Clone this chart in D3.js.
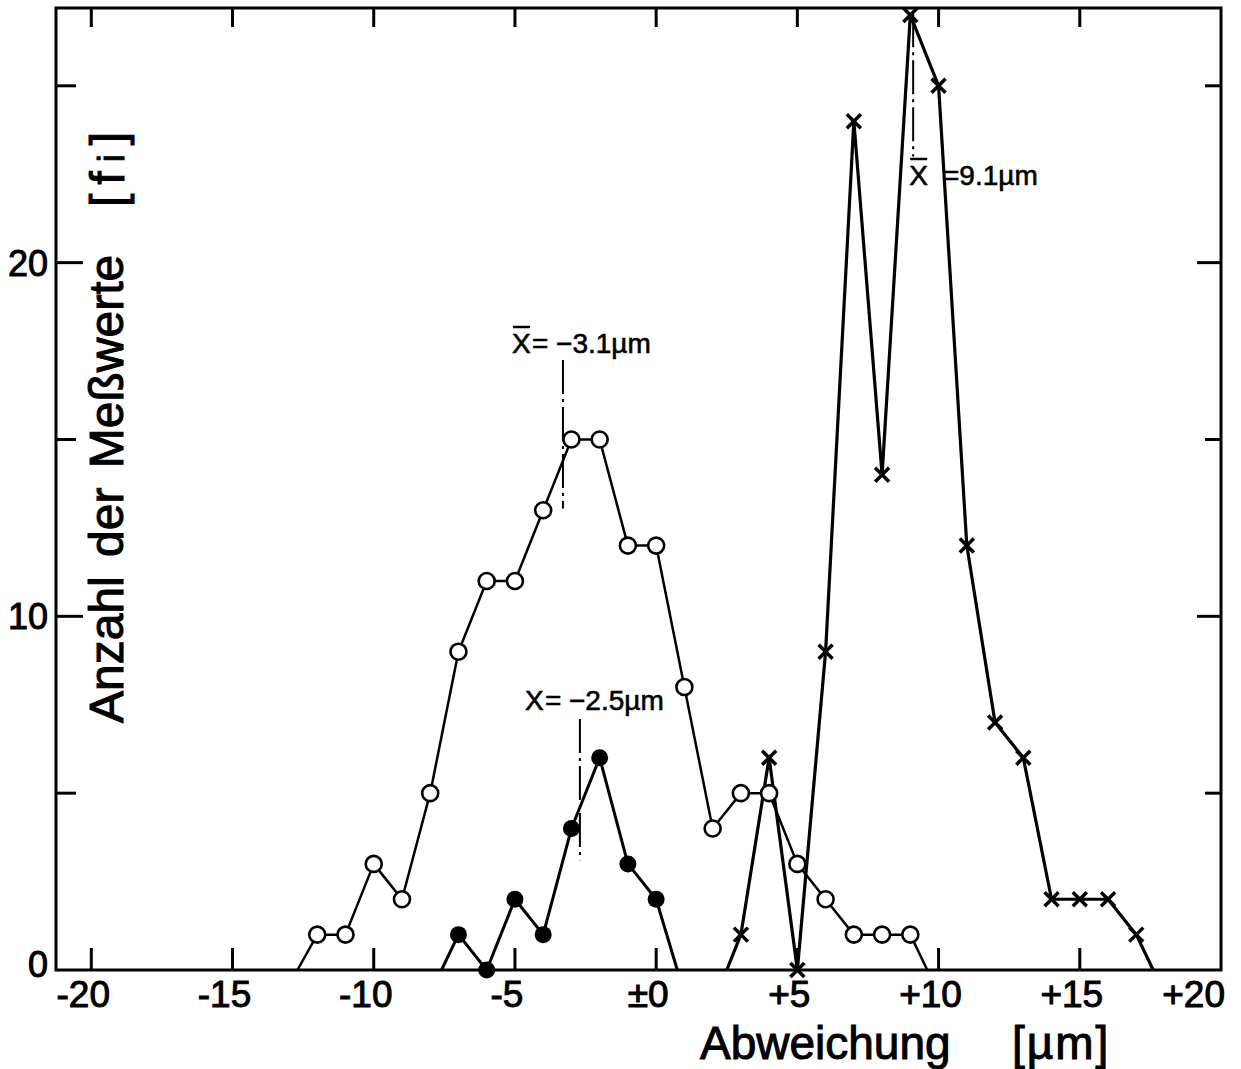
<!DOCTYPE html>
<html>
<head>
<meta charset="utf-8">
<script src="https://cdn.jsdelivr.net/npm/d3@7"></script>
<style>
  html, body { margin: 0; padding: 0; background: #fff; }
  svg { display: block; }
  text { font-family: "Liberation Sans", Arial, sans-serif; fill: #000; stroke: #000; stroke-width: 1px; }
  text.small { stroke-width: 0.6px; }
</style>
</head>
<body>
<svg id="chart"></svg>
<script>
// Deviation histograms (open circles, filled dots, crosses)

// open circles
const openX = [-12, -11, -10, -9, -8, -7, -6, -5, -4, -3, -2, -1, 0, 1, 2, 3, 4, 5, 6, 7, 8, 9];
const openY = [1, 1, 3, 2, 5, 9, 11, 11, 13, 15, 15, 12, 12, 8, 4, 5, 5, 3, 2, 1, 1, 1];
const openEnds = [-12.7, 9.6];

// filled dots
const filledX = [-7, -6, -5, -4, -3, -2, -1, 0];
const filledY = [1, 0, 2, 1, 4, 6, 3, 2];
const filledEnds = [-7.6, 0.75];

// crosses
const crossX = [3, 4, 5, 6, 7, 8, 9, 10, 11, 12, 13, 14, 15, 16, 17];
const crossY = [1, 6, 0, 9, 24, 14, 27, 25, 12, 7, 6, 2, 2, 2, 1];
const crossEnds = [2.5, 17.6];

// mean markers: x position, vertical extent, label
const meanX = [-3.3, -2.7, 9.1];
const meanFrom = [13.05, 3.1, 23.0];
const meanTo = [17.25, 7.1, 27.05];
const meanLabel = ['= \u22123.1\u00b5m', '= \u22122.5\u00b5m', '=9.1\u00b5m'];
const meanBar = [true, false, true];

// axis ticks
const xTicks = [-20, -15, -10, -5, 0, 5, 10, 15, 20];
const xTickLabels = ['-20', '-15', '-10', '-5', '\u00b10', '+5', '+10', '+15', '+20'];
const yTicks = [5, 10, 15, 20, 25];
const yLabelTicks = [0, 10, 20];

const width = 1241, height = 1069;
const margin = { top: 8, right: 20, bottom: 99, left: 56 };

const svg = d3.select('#chart')
  .attr('width', width)
  .attr('height', height);

const xScale = d3.scaleLinear()
  .domain([-21.25, 20])
  .range([margin.left, width - margin.right]);

const yScale = d3.scaleLinear()
  .domain([0, 27.2])
  .range([height - margin.bottom, margin.top]);

const x0 = xScale.range()[0], x1 = xScale.range()[1];
const y0 = yScale.range()[0], y1 = yScale.range()[1];

// Frame
svg.append('rect')
  .attr('x', x0)
  .attr('y', y1)
  .attr('width', x1 - x0)
  .attr('height', y0 - y1)
  .style('fill', 'none')
  .style('stroke', '#000')
  .style('stroke-width', 3);

// Ticks on all four sides (pointing inward)
const ticks = svg.append('g').style('stroke', '#000').style('stroke-width', 3);

ticks.selectAll('.tb')
  .data(xTicks.filter(d => d < 20))
  .enter().append('line')
  .attr('x1', d => xScale(d)).attr('x2', d => xScale(d))
  .attr('y1', y0).attr('y2', y0 - 22);

ticks.selectAll('.tt')
  .data(xTicks.filter(d => d < 20))
  .enter().append('line')
  .attr('x1', d => xScale(d)).attr('x2', d => xScale(d))
  .attr('y1', y1).attr('y2', y1 + 19);

ticks.selectAll('.tl')
  .data(yTicks)
  .enter().append('line')
  .attr('x1', x0).attr('x2', d => x0 + (d % 10 === 0 ? 27 : 20))
  .attr('y1', d => yScale(d)).attr('y2', d => yScale(d));

ticks.selectAll('.tr')
  .data(yTicks)
  .enter().append('line')
  .attr('x1', x1).attr('x2', d => x1 - (d % 10 === 0 ? 24 : 16))
  .attr('y1', d => yScale(d)).attr('y2', d => yScale(d));

// X tick labels
svg.append('g')
  .selectAll('text')
  .data(xTicks)
  .enter().append('text')
  .attr('x', (d, i) => d === 20 ? xScale(d) + 4 : xScale(d) - 8)
  .attr('y', 1007)
  .attr('text-anchor', d => d === 20 ? 'end' : 'middle')
  .style('font-size', '37px')
  .text((d, i) => xTickLabels[i]);

// Y tick labels
svg.append('g')
  .selectAll('text')
  .data(yLabelTicks)
  .enter().append('text')
  .attr('x', x0 - 8)
  .attr('y', d => yScale(d))
  .attr('dy', d => d === 0 ? '0.2em' : '0.36em')
  .attr('text-anchor', 'end')
  .style('font-size', '36px')
  .text(d => d);

// Axis titles
svg.append('text')
  .attr('x', 700)
  .attr('y', 1059)
  .style('font-size', '46px')
  .text('Abweichung');

svg.append('text')
  .attr('x', 1012)
  .attr('y', 1059)
  .style('font-size', '46px')
  .style('letter-spacing', '2px')
  .text('[\u00b5m]');

svg.append('text')
  .attr('transform', 'translate(123,723) rotate(-90)')
  .style('font-size', '48px')
  .style('word-spacing', '6px')
  .text('Anzahl der Meßwerte');

const fi = svg.append('text')
  .attr('transform', 'translate(124,207) rotate(-90)')
  .style('font-size', '48px')
  .style('letter-spacing', '9px');
fi.append('tspan').text('[f');
fi.append('tspan').style('font-size', '36px').text('i');
fi.append('tspan').text(']');

// Series lines
const line = d3.line()
  .x(d => xScale(d[0]))
  .y(d => yScale(d[1]));

function withEnds(xs, ys, ends) {
  const pts = xs.map((d, i) => [d, ys[i]]);
  return [[ends[0], 0]].concat(pts, [[ends[1], 0]]);
}

const series = [
  { xs: openX, ys: openY, ends: openEnds, w: 2.5 },
  { xs: filledX, ys: filledY, ends: filledEnds, w: 3 },
  { xs: crossX, ys: crossY, ends: crossEnds, w: 3.2 }
];

svg.append('g')
  .selectAll('path')
  .data(series)
  .enter().append('path')
  .attr('d', d => line(withEnds(d.xs, d.ys, d.ends)))
  .style('fill', 'none')
  .style('stroke', '#000')
  .style('stroke-width', d => d.w)
  .style('stroke-linejoin', 'round');

// Mean markers (dash-dot lines)
svg.append('g')
  .selectAll('line')
  .data(meanX)
  .enter().append('line')
  .attr('x1', d => xScale(d)).attr('x2', d => xScale(d))
  .attr('y1', (d, i) => yScale(meanTo[i]))
  .attr('y2', (d, i) => yScale(meanFrom[i]))
  .style('stroke', '#000')
  .style('stroke-width', 2)
  .style('stroke-dasharray', '34,5,3,5');

// Open circle markers
svg.append('g')
  .selectAll('circle')
  .data(openX)
  .enter().append('circle')
  .attr('cx', d => xScale(d))
  .attr('cy', (d, i) => yScale(openY[i]))
  .attr('r', 8)
  .style('fill', '#fff')
  .style('stroke', '#000')
  .style('stroke-width', 2.6);

// Filled dot markers
svg.append('g')
  .selectAll('circle')
  .data(filledX)
  .enter().append('circle')
  .attr('cx', d => xScale(d))
  .attr('cy', (d, i) => yScale(filledY[i]))
  .attr('r', 8.5)
  .style('fill', '#000');

// Cross markers
const crosses = svg.append('g')
  .style('stroke', '#000')
  .style('stroke-width', 3.5)
  .selectAll('g')
  .data(crossX)
  .enter().append('g')
  .attr('transform', (d, i) => `translate(${xScale(d)},${yScale(crossY[i])})`);
crosses.append('line').attr('x1', -7).attr('y1', -7).attr('x2', 7).attr('y2', 7);
crosses.append('line').attr('x1', -7).attr('y1', 7).attr('x2', 7).attr('y2', -7);

// Mean labels
const labelPos = [
  { dx: -51, y: 353 },
  { dx: -55, y: 710 },
  { dx: -4, y: 185 }
];

meanX.forEach((m, i) => {
  const px = xScale(m) + labelPos[i].dx;
  const g = svg.append('g');
  const xt = g.append('text')
    .attr('class', 'small')
    .attr('x', px)
    .attr('y', labelPos[i].y)
    .style('font-size', '28px')
    .text('X');
  const bb = xt.node().getBBox();
  if (meanBar[i]) {
    g.append('line')
      .attr('x1', bb.x + 1).attr('x2', bb.x + bb.width - 1)
      .attr('y1', labelPos[i].y - 26).attr('y2', labelPos[i].y - 26)
      .style('stroke', '#000')
      .style('stroke-width', 2.5);
  }
  g.append('text')
    .attr('class', 'small')
    .attr('x', i === 2 ? 943 : bb.x + bb.width + 1)
    .attr('y', labelPos[i].y)
    .style('font-size', '28px')
    .text(meanLabel[i]);
});
</script>
</body>
</html>
